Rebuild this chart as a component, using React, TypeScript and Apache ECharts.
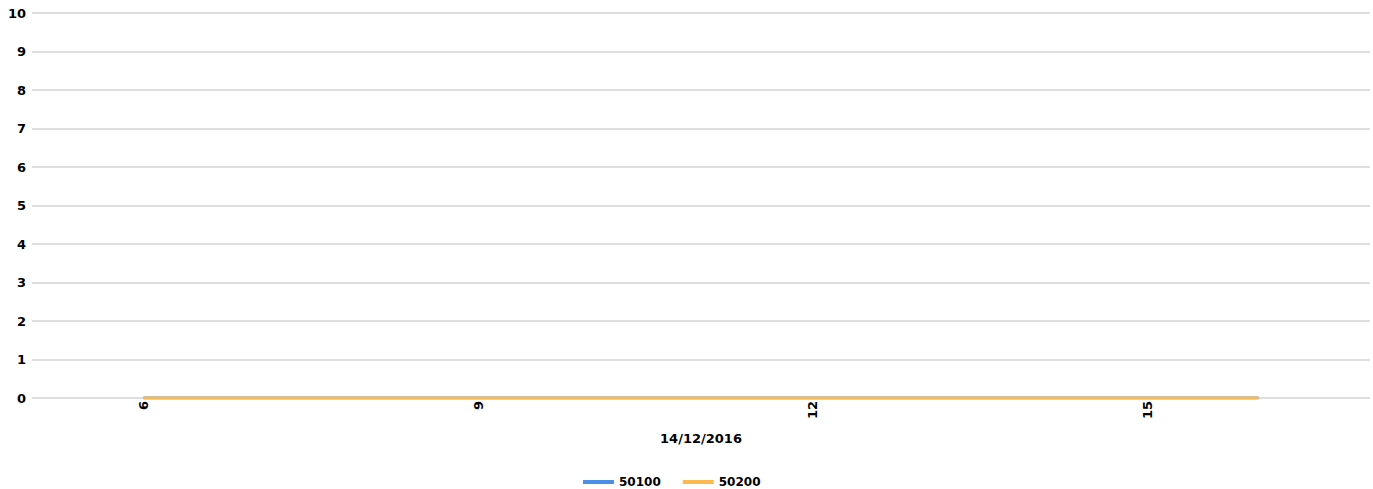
import React, { useEffect, useRef } from "react";
import * as echarts from "echarts";

const hours = [6, 7, 8, 9, 10, 11, 12, 13, 14, 15, 16];
const series50100 = [0, 0, 0, 0, 0, 0, 0, 0, 0, 0, 0];
const series50200 = [0, 0, 0, 0, 0, 0, 0, 0, 0, 0, 0];
const xTickValues = [6, 9, 12, 15];
const seriesNames = ["50100", "50200"];
const axisTitle = "14/12/2016";

export default function App() {
  const ref = useRef<HTMLDivElement>(null);
  useEffect(() => {
    if (!ref.current) return;
    document.body.style.margin = "0";
    document.body.style.overflow = "hidden";
    const chart = echarts.init(ref.current, null, { renderer: "svg" });
    const font = "DejaVu Sans";
    chart.setOption({
      animation: false,
      grid: { left: 32, right: 3, top: 13, bottom: 91, containLabel: false },
      legend: {
        top: 471,
        left: 578,
        itemWidth: 31,
        itemHeight: 4,
        itemGap: 22,
        icon: "rect",
        textStyle: { fontFamily: font, fontWeight: "bold", fontSize: 12, color: "#000" },
        data: seriesNames,
      },
      xAxis: {
        type: "value",
        min: 5,
        max: 17,
        name: axisTitle,
        nameLocation: "middle",
        nameGap: 34,
        nameTextStyle: { fontFamily: font, fontWeight: "bold", fontSize: 13, color: "#000" },
        axisLine: { show: false },
        axisTick: { show: false },
        splitLine: { show: false },
        axisLabel: {
          customValues: xTickValues,
          rotate: 90,
          margin: 3,
          fontFamily: font,
          fontWeight: "bold",
          fontSize: 13,
          color: "#000",
        },
      },
      yAxis: {
        type: "value",
        min: 0,
        max: 10,
        interval: 1,
        axisLine: { show: false },
        axisTick: { show: false },
        splitLine: { lineStyle: { color: "#dedede", width: 2 } },
        axisLabel: {
          margin: 6,
          fontFamily: font,
          fontWeight: "bold",
          fontSize: 13,
          color: "#000",
        },
      },
      series: [
        {
          name: seriesNames[0],
          type: "line",
          data: hours.map((h, i) => [h, series50100[i]]),
          showSymbol: false,
          lineStyle: { color: "#4a8fe7", width: 3 },
          itemStyle: { color: "#4a8fe7" },
        },
        {
          name: seriesNames[1],
          type: "line",
          data: hours.map((h, i) => [h, series50200[i]]),
          showSymbol: false,
          lineStyle: { color: "#ffb84d", width: 3 },
          itemStyle: { color: "#ffb84d" },
        },
      ],
    });
    return () => chart.dispose();
  }, []);
  return (
    <div
      ref={ref}
      style={{ position: "absolute", left: 0, top: 0, width: 1373, height: 489 }}
    />
  );
}
